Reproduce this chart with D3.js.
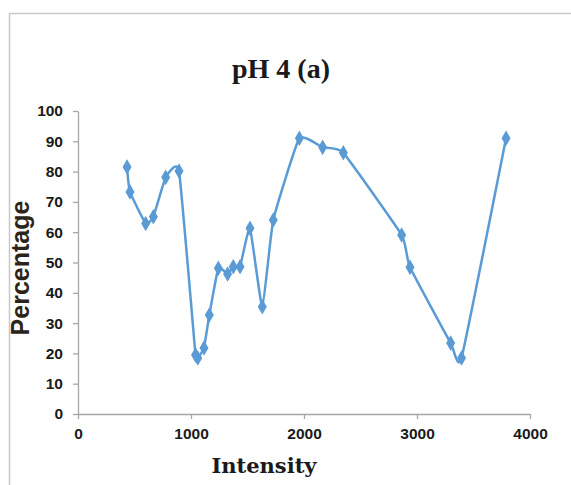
<!DOCTYPE html>
<html><head><meta charset="utf-8">
<script src="https://cdn.jsdelivr.net/npm/d3@7"></script>
<style>body{margin:0;background:#fff}svg{display:block}</style>
</head><body><svg id="c" width="571" height="485"></svg>
<script>
const intensity = [434,460,599,667,776,894,1040,1060,1115,1162,1242,1324,1374,1434,1522,1631,1728,1959,2165,2348,2864,2938,3298,3394,3788];
const percentage = [81.5,73.3,62.9,65.1,78.1,80.2,19.5,18.5,21.8,32.7,48.1,46.2,48.6,48.6,61.3,35.4,64.0,91.0,88.0,86.2,59.1,48.4,23.4,18.5,91.0];
const xTicks = [0,1000,2000,3000,4000];
const yTicks = [0,10,20,30,40,50,60,70,80,90,100];

const svg = d3.select('#c');
svg.append('rect').attr('x',9.5).attr('y',13.5).attr('width',570).attr('height',480)
  .attr('fill','none').attr('stroke','#c8c8c8').attr('stroke-width',1.5);

const x = d3.scaleLinear().domain([0,4000]).range([78,530]);
const y = d3.scaleLinear().domain([0,100]).range([414,111]);

const xa = svg.append('g').attr('transform','translate(0,414)')
  .call(d3.axisBottom(x).tickValues(xTicks).tickFormat(d3.format('d')).tickSize(5).tickSizeOuter(0).tickPadding(9));
const ya = svg.append('g').attr('transform','translate(78,0)')
  .call(d3.axisLeft(y).tickValues(yTicks).tickFormat(d3.format('d')).tickSize(5).tickSizeOuter(0).tickPadding(10));
[xa,ya].forEach(a=>{
  a.select('.domain').attr('stroke','#a6a6a6').attr('stroke-width',1.3);
  a.selectAll('.tick line').attr('stroke','#a6a6a6').attr('stroke-width',1.3);
  a.selectAll('text').attr('fill','#1a1a1a').attr('font-family','Liberation Sans, Arial, sans-serif')
    .attr('font-weight','bold').attr('font-size',15.5);
});

const data = intensity.map((d,i)=>[d,percentage[i]]);
svg.append('path').datum(data)
  .attr('d', d3.line().x(d=>x(d[0])).y(d=>y(d[1])).curve(d3.curveCardinal.tension(0.6)))
  .attr('fill','none').attr('stroke','#5b9bd5').attr('stroke-width',2.5);
svg.append('g').selectAll('path').data(data).join('path')
  .attr('d', d3.symbol(d3.symbolDiamond, 70))
  .attr('transform', d=>`translate(${x(d[0])},${y(d[1])})`)
  .attr('fill','#5b9bd5');

svg.append('text').attr('x',281).attr('y',78).attr('text-anchor','middle')
  .attr('font-family','Liberation Serif, Times New Roman, serif').attr('font-weight','bold')
  .attr('font-size',28).attr('fill','#1a1a1a').text('pH 4 (a)');
svg.append('text').attr('x',264).attr('y',473).attr('text-anchor','middle')
  .attr('font-family','DejaVu Serif, serif').attr('font-weight','bold')
  .attr('font-size',21).attr('fill','#1a1a1a').text('Intensity');
svg.append('text').attr('transform','translate(29,268) rotate(-90)').attr('text-anchor','middle')
  .attr('font-family','Liberation Sans, Arial, sans-serif').attr('font-weight','bold')
  .attr('font-size',25).attr('fill','#2b2418').text('Percentage');
</script></body></html>
